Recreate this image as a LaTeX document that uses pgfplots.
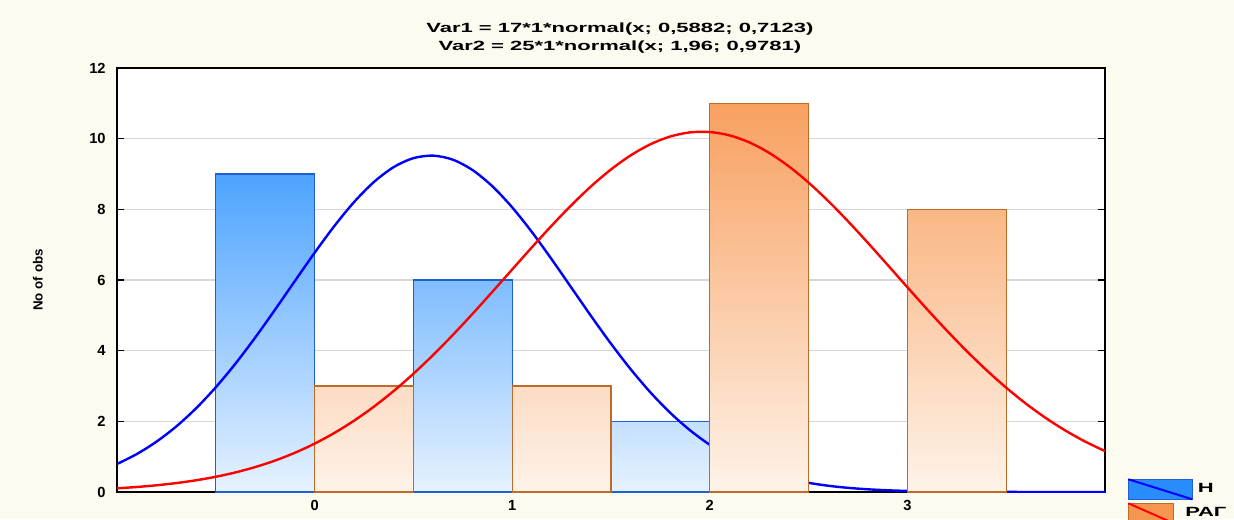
\documentclass[border=0pt]{standalone}
\usepackage{fontspec}
\setmainfont{Liberation Sans}
\newfontfamily\widefont[FakeStretch=1.65]{Liberation Sans}
\usepackage{pgfplots}
\pgfplotsset{compat=1.18}
\definecolor{cream}{RGB}{253,250,240}
\definecolor{bedge}{RGB}{31,95,208}
\definecolor{oedge}{RGB}{192,106,40}
\definecolor{bbot}{RGB}{230,242,255}
\definecolor{bnine}{RGB}{77,163,255}
\definecolor{bsix}{RGB}{127,189,255}
\definecolor{btwo}{RGB}{196,224,255}
\definecolor{blegend}{RGB}{40,140,250}
\definecolor{obot}{RGB}{254,243,233}
\definecolor{oeleven}{RGB}{248,160,96}
\definecolor{oeight}{RGB}{250,183,133}
\definecolor{othree}{RGB}{252,220,196}
\definecolor{olegend}{RGB}{245,150,80}
\definecolor{gridgray}{RGB}{215,215,215}
\begin{document}
\begin{tikzpicture}
\fill[cream] (-87.75pt,-20.25pt) rectangle (837.75pt,369pt);
\begin{axis}[
  at={(0pt,0pt)}, anchor=south west,
  scale only axis, width=741pt, height=318pt,
  xmin=-1, xmax=4, ymin=0, ymax=12,
  xtick={0,1,2,3}, ytick={0,2,4,6,8,10,12},
  ymajorgrids, major grid style={gridgray, line width=0.8pt},
  xtick style={draw=none},
  ytick style={black, line width=0.8pt},
  ytick align=inside, major tick length=5pt,
  axis background/.style={fill=white},
  axis line style={black, line width=1.1pt},
  tick label style={font=\fontsize{11}{12}\selectfont\bfseries},
  /pgf/number format/assume math mode=true,
  yticklabel style={xshift=-5pt},
  xticklabel style={yshift=-3pt},
  title={Var1 = 17*1*normal(x; 0,5882; 0,7123)\\Var2 = 25*1*normal(x; 1,96; 0,9781)},
  title style={at={(axis description cs:0.509,1)}, anchor=south, align=center, inner sep=0pt, yshift=5pt, font=\widefont\bfseries\fontsize{10}{13.5}\selectfont},
  ylabel={No of obs},
  ylabel style={at={(axis description cs:-0.080,0.5)}, anchor=center, font=\fontsize{10}{11}\selectfont\bfseries},
  legend cell align=center,
  legend style={at={(axis description cs:1,0)}, anchor=north west, xshift=16.5pt, yshift=10.5pt,
    draw=none, fill=none, inner sep=0pt, row sep=1.5pt, column sep=-6pt,
    nodes={inner sep=0pt, font=\widefont\bfseries\fontsize{10}{11}\selectfont}},
]
% Blue bars (H)
\addplot[ybar, bar width=0.5, bar shift=0pt, draw=bedge, line width=0.8pt, top color=bnine, bottom color=bbot,
  legend image code/.code={\draw[top color=blegend, bottom color=blegend, draw=bedge, line width=0.8pt] (0pt,-7.5pt) rectangle (48pt,7.5pt); \draw[blue, line width=1.5pt] (0pt,7.5pt) -- (48pt,-7.5pt);}]
  coordinates {(-0.25,9)};
\addlegendentry{Н}
\addplot[ybar, bar width=0.5, bar shift=0pt, draw=bedge, line width=0.8pt, top color=bsix, bottom color=bbot, forget plot]
  coordinates {(0.75,6)};
\addplot[ybar, bar width=0.5, bar shift=0pt, draw=bedge, line width=0.8pt, top color=btwo, bottom color=bbot, forget plot]
  coordinates {(1.75,2)};
% Blue fitted curve
\addplot[blue, line width=1.8pt, smooth, forget plot] coordinates {
(-1.0,0.7928)(-0.9,1.0734)(-0.8,1.4255)(-0.7,1.8554)(-0.6,2.3684)(-0.5,2.9639)
(-0.4,3.6367)(-0.3,4.3759)(-0.2,5.1617)(-0.1,5.9700)(0.0,6.7701)(0.1,7.5280)
(0.2,8.2071)(0.3,8.7727)(0.4,9.1943)(0.5,9.4483)(0.6,9.5197)(0.7,9.4044)
(0.8,9.1092)(0.9,8.6512)(1.0,8.0557)(1.1,7.3552)(1.2,6.5841)(1.3,5.7789)
(1.4,4.9731)(1.5,4.1965)(1.6,3.4716)(1.7,2.8161)(1.8,2.2398)(1.9,1.7466)
(2.0,1.3356)(2.1,1.0011)(2.2,0.7357)(2.3,0.5303)(2.4,0.3748)(2.5,0.2597)
(2.6,0.1764)(2.7,0.1175)(2.8,0.0767)(2.9,0.0491)(3.0,0.0308)(3.2,0.0115)
(3.4,0.0039)(3.6,0.0012)(3.8,0.0003)(4.0,0.0001)};
% Orange bars (RAG)
\addplot[ybar, bar width=0.5, bar shift=0pt, draw=oedge, line width=0.8pt, top color=othree, bottom color=obot,
  legend image code/.code={\draw[top color=olegend, bottom color=olegend, draw=oedge, line width=0.8pt] (0pt,-7.5pt) rectangle (34pt,7.5pt); \draw[red, line width=1.5pt] (0pt,7.5pt) -- (34pt,-7.5pt);}]
  coordinates {(0.25,3)};
\addlegendentry{РАГ}
\addplot[ybar, bar width=0.5, bar shift=0pt, draw=oedge, line width=0.8pt, top color=othree, bottom color=obot, forget plot]
  coordinates {(1.25,3)};
\addplot[ybar, bar width=0.5, bar shift=0pt, draw=oedge, line width=0.8pt, top color=oeleven, bottom color=obot, forget plot]
  coordinates {(2.25,11)};
\addplot[ybar, bar width=0.5, bar shift=0pt, draw=oedge, line width=0.8pt, top color=oeight, bottom color=obot, forget plot]
  coordinates {(3.25,8)};
% Red fitted curve
\addplot[red, line width=1.8pt, smooth, forget plot] coordinates {
(-1.0,0.1047)(-0.9,0.1419)(-0.8,0.1903)(-0.7,0.2526)(-0.6,0.3318)(-0.5,0.4314)
(-0.4,0.5551)(-0.3,0.7067)(-0.2,0.8902)(-0.1,1.1097)(0.0,1.3692)(0.1,1.6719)
(0.2,2.0202)(0.3,2.4154)(0.4,2.8583)(0.5,3.3469)(0.6,3.8780)(0.7,4.4473)
(0.8,5.0469)(0.9,5.6685)(1.0,6.2992)(1.1,6.9275)(1.2,7.5397)(1.3,8.1208)
(1.4,8.6555)(1.5,9.1294)(1.6,9.5291)(1.7,9.8431)(1.8,10.0615)(1.9,10.178)
(2.0,10.188)(2.1,10.093)(2.2,9.8947)(2.3,9.5992)(2.4,9.2158)(2.5,8.7557)
(2.6,8.2320)(2.7,7.6592)(2.8,7.0520)(2.9,6.4253)(3.0,5.7936)(3.1,5.1699)
(3.2,4.5655)(3.3,3.9894)(3.4,3.4501)(3.5,2.9522)(3.6,2.5001)(3.7,2.0954)
(3.8,1.7379)(3.9,1.4264)(4.0,1.1584)};
\end{axis}
\pgfresetboundingbox
\useasboundingbox (-87.75pt,-20.25pt) rectangle (837.75pt,369pt);
\end{tikzpicture}
\end{document}
